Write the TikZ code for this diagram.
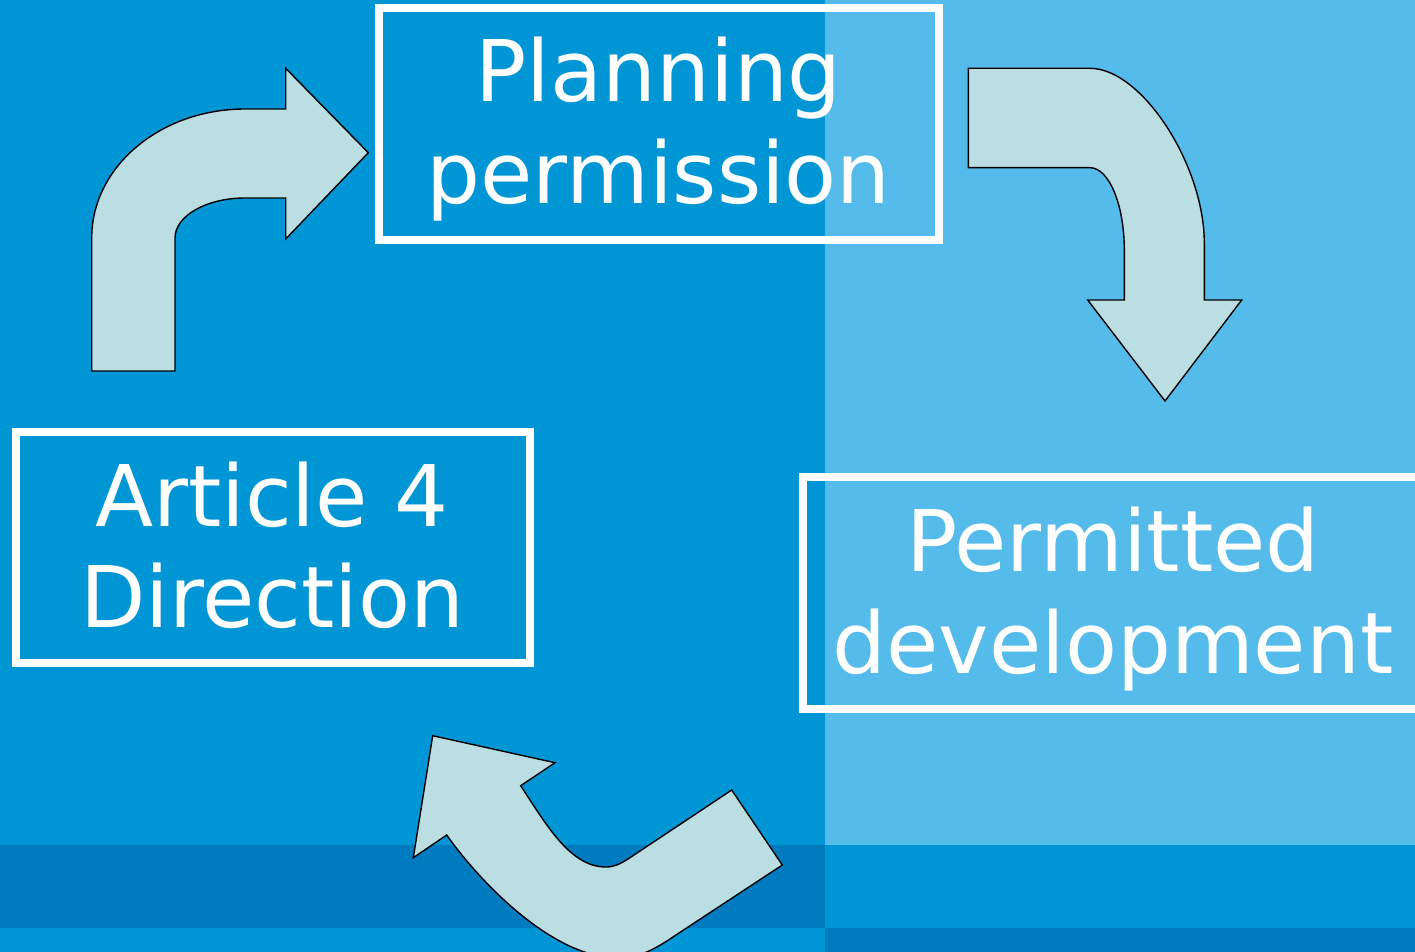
\documentclass[tikz,border=0pt]{standalone}
\usepackage{fontspec}
\setmainfont{DejaVu Sans}
\definecolor{bgmain}{HTML}{0096D6}
\definecolor{bglight}{HTML}{54BBEA}
\definecolor{bgdark}{HTML}{007BC0}
\definecolor{arrowfill}{HTML}{BBDEE3}
\begin{document}
\begin{tikzpicture}[x=1pt,y=-1pt,
  arrowshape/.style={fill=arrowfill, draw=black, line width=1.4pt, line join=miter},
  boxst/.style={rectangle, draw=white, line width=8pt, inner sep=0pt, outer sep=0pt},
  txt/.style={text=white, font=\fontsize{85}{102}\selectfont, inner sep=0pt, anchor=base}]
\useasboundingbox (0,0) rectangle (1415,952);
\clip (0,0) rectangle (1415,952);
% background
\fill[bgmain] (0,0) rectangle (825,952);
\fill[bglight] (825,0) rectangle (1415,845);
\fill[bgdark] (0,845) rectangle (825,928);
\fill[bgmain] (825,845) rectangle (1415,928);
\fill[bgmain] (0,928) rectangle (825,952);
\fill[bgdark] (825,928) rectangle (1415,952);
% boxes
\node[boxst, minimum width=560pt, minimum height=232pt] (planbox) at (658.7,124) {};
\node[boxst, minimum width=514pt, minimum height=231pt] (artbox) at (273,547.5) {};
\node[boxst, minimum width=621pt, minimum height=231.5pt] (permbox) at (1113,592.75) {};
% texts
\node[txt] (plan1) at (658.7,101.7) {Planning};
\node[txt] (plan2) at (658.7,204) {permission};
\node[txt] (art1) at (272,526) {Article 4};
\node[txt] (art2) at (272,627.7) {Direction};
\node[txt] (perm1) at (1113,571) {Permitted};
\node[txt] (perm2) at (1113,673.3) {development};
% arrows
\draw[arrowshape] (91.7,371) -- (91.7,238) .. controls (91.7,166.8) and (160.3,109) .. (245,109) -- (285.7,109) -- (285.7,68.3) -- (368.3,152.7) -- (285.7,239) -- (285.7,198) -- (245,198) .. controls (206.3,198) and (175,215.9) .. (175,238) -- (175,371) -- cycle;
\draw[arrowshape] (968.3,68.3) -- (1090,68.3) .. controls (1141.4,68.3) and (1204.3,164.5) .. (1204.3,243.3) -- (1204.3,300) -- (1241.7,300) -- (1165,401) -- (1087.7,300) -- (1124.3,300) -- (1124.3,250) .. controls (1124.3,204.5) and (1108.9,167.7) .. (1090,167.7) -- (968.3,167.7) -- cycle;
\draw[arrowshape] (432.7,735.7) -- (555,762.7) -- (520.7,785.7) .. controls (548,827.6) and (571,867) .. (606,867) .. controls (614,867) and (620,864) .. (628,859) -- (731.7,790) -- (782.3,865) -- (676.7,934.5) .. controls (656,948.5) and (640,958) .. (618,958) .. controls (548,958) and (472.4,871.9) .. (446.7,835) -- (413.3,857.7) -- cycle;
\end{tikzpicture}
\end{document}
